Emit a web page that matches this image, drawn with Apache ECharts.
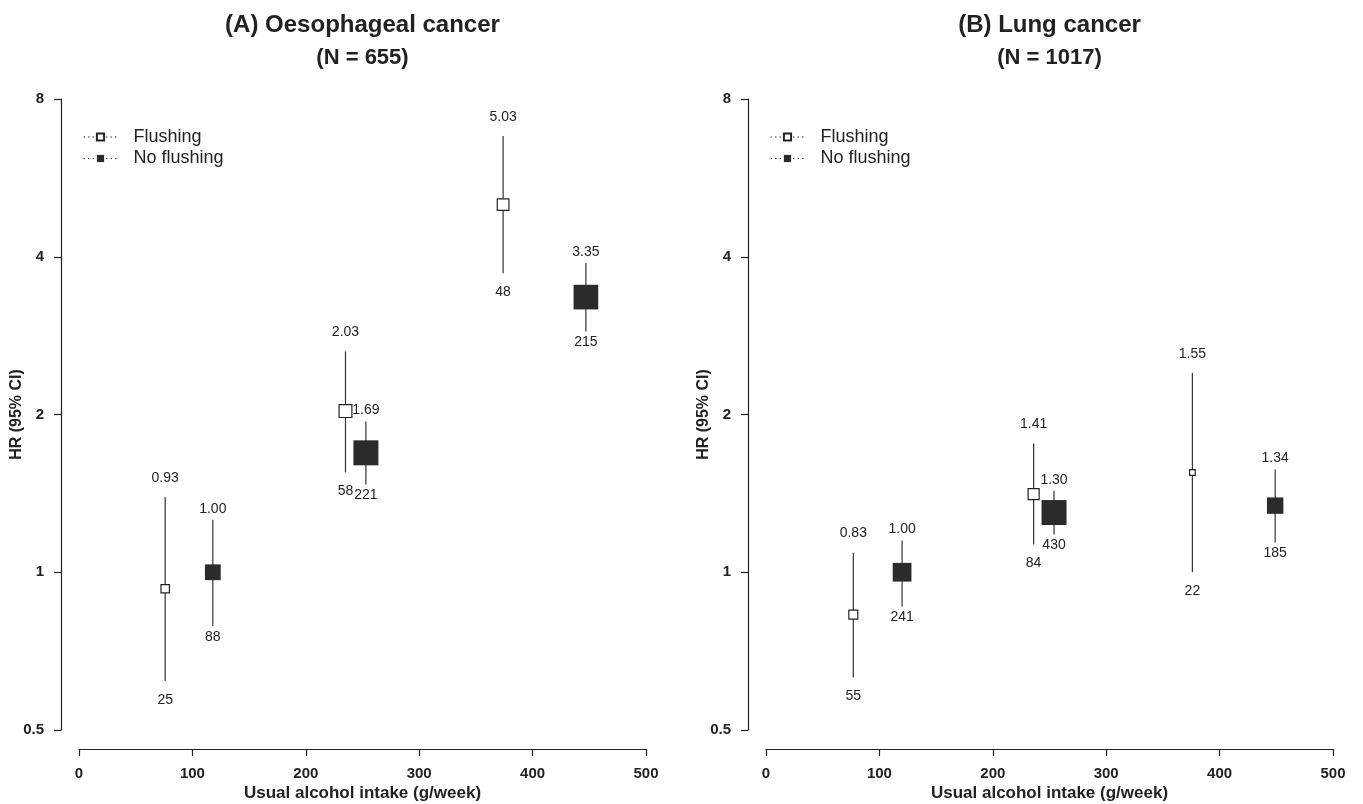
<!DOCTYPE html>
<html>
<head>
<meta charset="utf-8">
<script src="https://cdn.jsdelivr.net/npm/echarts@6/dist/echarts.min.js"></script>
<style>
  html, body { margin: 0; padding: 0; background: #fff; }
  #chart { width: 1363px; height: 804px; }
</style>
</head>
<body>
<div id="chart"></div>
<script>
// ---------- DATA ----------
const panelTitles = ['(A) Oesophageal cancer', '(B) Lung cancer'];
const panelN = ['(N = 655)', '(N = 1017)'];
const seriesNames = ['Flushing', 'No flushing'];
const xTicks = [0, 100, 200, 300, 400, 500];
const yTicks = [0.5, 1, 2, 4, 8];

// Oesophageal cancer
const oesoFlushX  = [76, 235, 374];
const oesoFlushHR = [0.93, 2.03, 5.03];
const oesoFlushLo = [0.62, 1.55, 3.72];
const oesoFlushHi = [1.39, 2.64, 6.80];
const oesoFlushN  = [25, 58, 48];

const oesoNoFlushX  = [118, 253, 447];
const oesoNoFlushHR = [1.00, 1.69, 3.35];
const oesoNoFlushLo = [0.79, 1.47, 2.88];
const oesoNoFlushHi = [1.26, 1.94, 3.89];
const oesoNoFlushN  = [88, 221, 215];

// Lung cancer
const lungFlushX  = [77, 236, 376];
const lungFlushHR = [0.83, 1.41, 1.55];
const lungFlushLo = [0.63, 1.13, 1.00];
const lungFlushHi = [1.09, 1.76, 2.40];
const lungFlushN  = [55, 84, 22];

const lungNoFlushX  = [120, 254, 449];
const lungNoFlushHR = [1.00, 1.30, 1.34];
const lungNoFlushLo = [0.86, 1.18, 1.14];
const lungNoFlushHi = [1.15, 1.43, 1.57];
const lungNoFlushN  = [241, 430, 185];

// ---------- CHART ----------
const FONT = '"Liberation Sans", Arial, Helvetica, sans-serif';
const INK = '#222222';
const FILL = '#2b2b2b';
const MAX_SYMBOL = 25;

const panels = [
  { flush: [oesoFlushX, oesoFlushHR, oesoFlushLo, oesoFlushHi, oesoFlushN],
    noflush: [oesoNoFlushX, oesoNoFlushHR, oesoNoFlushLo, oesoNoFlushHi, oesoNoFlushN] },
  { flush: [lungFlushX, lungFlushHR, lungFlushLo, lungFlushHi, lungFlushN],
    noflush: [lungNoFlushX, lungNoFlushHR, lungNoFlushLo, lungNoFlushHi, lungNoFlushN] }
];

const gridLefts = [79, 766];
const gridWidth = 567;

function rows(arrs) {
  const [x, hr, lo, hi, n] = arrs;
  return x.map((v, i) => [v, lo[i], hi[i], hr[i], n[i]]);
}
function points(arrs) {
  const [x, hr, lo, hi, n] = arrs;
  return x.map((v, i) => [v, hr[i], n[i]]);
}

function errRender(labelOffset) {
  return function (params, api) {
    const x = api.value(0), lo = api.value(1), hi = api.value(2);
    const hr = api.value(3), n = api.value(4);
    const pLo = api.coord([x, lo]);
    const pHi = api.coord([x, hi]);
    const txt = { fill: INK, font: '14px ' + FONT, align: 'center', verticalAlign: 'middle' };
    return {
      type: 'group',
      children: [
        { type: 'line', shape: { x1: pLo[0], y1: pLo[1], x2: pHi[0], y2: pHi[1] },
          style: { stroke: '#333', lineWidth: 1.2 } },
        { type: 'text', x: pHi[0], y: pHi[1] - labelOffset,
          style: Object.assign({ text: Number(hr).toFixed(2) }, txt) },
        { type: 'text', x: pLo[0], y: pLo[1] + labelOffset,
          style: Object.assign({ text: String(n) }, txt) }
      ]
    };
  };
}

const grids = [], xAxes = [], yAxes = [], series = [], titles = [], legends = [];

panels.forEach((p, k) => {
  const cx = gridLefts[k] + gridWidth / 2;
  grids.push({ left: gridLefts[k], top: 99, width: gridWidth, height: 631,
               containLabel: false, outerBoundsMode: 'none' });
  xAxes.push({
    gridIndex: k, type: 'value', min: xTicks[0], max: xTicks[xTicks.length - 1], interval: 100,
    offset: 19,
    axisLine: { show: true, onZero: false, lineStyle: { color: INK, width: 1.2 } },
    axisTick: { show: true, length: 7, lineStyle: { color: INK, width: 1.2 } },
    axisLabel: { color: INK, fontFamily: FONT, fontWeight: 'bold', fontSize: 15, margin: 17 },
    splitLine: { show: false },
    name: 'Usual alcohol intake (g/week)', nameLocation: 'middle', nameGap: 36,
    nameMoveOverlap: false,
    nameTextStyle: { color: INK, fontFamily: FONT, fontWeight: 'bold', fontSize: 17 }
  });
  yAxes.push({
    gridIndex: k, type: 'log', logBase: 2, min: yTicks[0], max: yTicks[yTicks.length - 1],
    offset: 18,
    axisLine: { show: true, onZero: false, lineStyle: { color: INK, width: 1.2 } },
    axisTick: { show: true, length: 7, lineStyle: { color: INK, width: 1.2 } },
    axisLabel: { color: INK, fontFamily: FONT, fontWeight: 'bold', fontSize: 15, margin: 17,
                 formatter: v => String(+v.toFixed(2)) },
    splitLine: { show: false },
    minorTick: { show: false },
    name: 'HR (95% CI)', nameLocation: 'middle', nameGap: 36, nameMoveOverlap: false,
    nameTextStyle: { color: INK, fontFamily: FONT, fontWeight: 'bold', fontSize: 16 }
  });
  titles.push({
    text: panelTitles[k], left: cx, top: 13, textAlign: 'center', padding: 0,
    textStyle: { color: INK, fontFamily: FONT, fontWeight: 'bold', fontSize: 24 }
  });
  titles.push({
    text: panelN[k], left: cx, top: 47, textAlign: 'center', padding: 0,
    textStyle: { color: INK, fontFamily: FONT, fontWeight: 'bold', fontSize: 22 }
  });
  legends.push({
    data: seriesNames, orient: 'vertical', left: gridLefts[k] + 4, top: 128, padding: 0,
    itemWidth: 34, itemHeight: 9, itemGap: 3.5, selectedMode: false,
    textStyle: { color: INK, fontFamily: FONT, fontSize: 18, lineHeight: 18, padding: [0, 0, 0, 11] },
    lineStyle: { opacity: 1, width: 1, type: [1.5, 3], color: '#333' }
  });

  const nmax = Math.max(...p.flush[4], ...p.noflush[4]);
  const sizeFn = v => MAX_SYMBOL * Math.sqrt(v[2] / nmax);

  // error bars with labels
  series.push({
    type: 'custom', name: 'Flushing CI', xAxisIndex: k, yAxisIndex: k, silent: true, z: 1,
    renderItem: errRender(19), encode: { x: 0, y: [1, 2] }, data: rows(p.flush)
  });
  series.push({
    type: 'custom', name: 'No flushing CI', xAxisIndex: k, yAxisIndex: k, silent: true, z: 1,
    renderItem: errRender(11), encode: { x: 0, y: [1, 2] }, data: rows(p.noflush)
  });
  // point estimates
  series.push({
    type: 'line', name: seriesNames[0], xAxisIndex: k, yAxisIndex: k, z: 3, silent: true,
    symbol: 'rect', symbolSize: sizeFn, showAllSymbol: true,
    itemStyle: { color: '#ffffff', borderColor: '#222', borderWidth: 1.2 },
    lineStyle: { color: '#333', width: 1, type: 'dotted', opacity: 0 },
    emphasis: { disabled: true },
    encode: { x: 0, y: 1 }, data: points(p.flush)
  });
  series.push({
    type: 'line', name: seriesNames[1], xAxisIndex: k, yAxisIndex: k, z: 3, silent: true,
    symbol: 'rect', symbolSize: sizeFn, showAllSymbol: true,
    itemStyle: { color: FILL, borderColor: FILL, borderWidth: 0 },
    lineStyle: { color: '#333', width: 1, type: 'dotted', opacity: 0 },
    emphasis: { disabled: true },
    encode: { x: 0, y: 1 }, data: points(p.noflush)
  });
});

const chart = echarts.init(document.getElementById('chart'), null, { renderer: 'canvas' });
chart.setOption({
  animation: false,
  backgroundColor: '#ffffff',
  title: titles,
  legend: legends,
  grid: grids,
  xAxis: xAxes,
  yAxis: yAxes,
  series: series
});
</script>
</body>
</html>
